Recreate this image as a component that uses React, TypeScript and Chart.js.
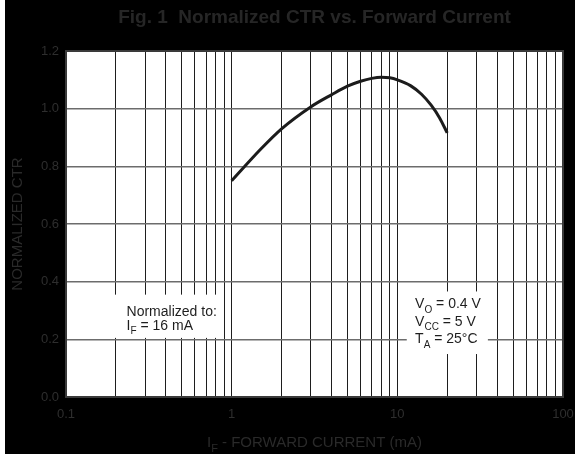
import React, { useEffect, useRef } from 'react';
import { Chart, registerables } from 'chart.js';

Chart.register(...registerables);

// Curve: normalized CTR against forward current (mA)
const currentMA = [1, 1.5, 2, 3, 4, 5, 6, 7, 8, 9, 10, 12, 14, 16, 18, 20];
const normalizedCTR = [0.75, 0.86, 0.93, 1.006, 1.048, 1.078, 1.095, 1.105, 1.109, 1.107, 1.1, 1.08, 1.05, 1.012, 0.968, 0.916];

// Axis ticks
const xDecades = [0.1, 1, 10, 100];
const xMinorSteps = [1, 2, 3, 4, 5, 6, 7, 8, 9];
const yTickValues = [0, 0.2, 0.4, 0.6, 0.8, 1.0, 1.2];

const TITLE = 'Fig. 1  Normalized CTR vs. Forward Current';
const Y_TITLE = 'NORMALIZED CTR';

type Part = { t: string; sub?: boolean };
const X_TITLE: Part[] = [{ t: 'I' }, { t: 'F', sub: true }, { t: ' - FORWARD CURRENT (mA)' }];
const NOTE_LEFT: Part[][] = [
  [{ t: 'Normalized to:' }],
  [{ t: 'I' }, { t: 'F', sub: true }, { t: ' = 16 mA' }],
];
const NOTE_RIGHT: Part[][] = [
  [{ t: 'V' }, { t: 'O', sub: true }, { t: ' = 0.4 V' }],
  [{ t: 'V' }, { t: 'CC', sub: true }, { t: ' = 5 V' }],
  [{ t: 'T' }, { t: 'A', sub: true }, { t: ' = 25°C' }],
];

const FAMILY = '"Liberation Sans", Arial, Helvetica, sans-serif';
const font = (size: number, weight = 'normal') => `${weight} ${size}px ${FAMILY}`;

const xGridValues: number[] = [];
xDecades.slice(0, -1).forEach((d) => xMinorSteps.forEach((m) => xGridValues.push(+(d * m).toPrecision(6))));
xGridValues.push(xDecades[xDecades.length - 1]);

function drawRich(ctx: CanvasRenderingContext2D, parts: Part[], x: number, y: number, size: number, align: 'left' | 'center') {
  const subSize = Math.round(size * 0.72);
  let total = 0;
  const widths = parts.map((p) => {
    ctx.font = font(p.sub ? subSize : size);
    const w = ctx.measureText(p.t).width;
    total += w;
    return w;
  });
  let cx = align === 'center' ? x - total / 2 : x;
  ctx.textAlign = 'left';
  ctx.textBaseline = 'alphabetic';
  parts.forEach((p, i) => {
    ctx.font = font(p.sub ? subSize : size);
    ctx.fillText(p.t, cx, p.sub ? y + size * 0.3 : y);
    cx += widths[i];
  });
}

const decorations = {
  id: 'ctrDecorations',
  beforeDraw(chart: any) {
    const { ctx, chartArea: a } = chart;
    ctx.save();
    ctx.fillStyle = '#ffffff';
    ctx.fillRect(a.left, a.top, a.right - a.left, a.bottom - a.top);
    ctx.restore();
  },
  beforeDatasetsDraw(chart: any) {
    const { ctx } = chart;
    const xs = chart.scales.x;
    const ys = chart.scales.y;
    ctx.save();
    // white panels behind the notes
    const panel = (x0: number, x1: number, y0: number, y1: number) => {
      const l = xs.getPixelForValue(x0);
      const r = xs.getPixelForValue(x1);
      const t = ys.getPixelForValue(y1);
      const b = ys.getPixelForValue(y0);
      ctx.fillStyle = '#ffffff';
      ctx.fillRect(l, t, r - l, b - t);
    };
    panel(0.18, 0.85, 0.205, 0.355);
    panel(11.4, 35.2, 0.149, 0.366);

    ctx.fillStyle = '#1e1e1e';
    NOTE_LEFT.forEach((line, i) => {
      drawRich(ctx, line, xs.getPixelForValue(0.232), ys.getPixelForValue(0.281) + i * 14, 14, 'left');
    });
    NOTE_RIGHT.forEach((line, i) => {
      drawRich(ctx, line, xs.getPixelForValue(12.8), ys.getPixelForValue(0.307) + i * 17.5, 14, 'left');
    });
    ctx.restore();
  },
  afterDraw(chart: any) {
    const { ctx, chartArea: a } = chart;
    ctx.save();
    // plot frame
    ctx.strokeStyle = '#3a3a3a';
    ctx.lineWidth = 2;
    ctx.strokeRect(a.left, a.top, a.right - a.left, a.bottom - a.top);

    const cx = (a.left + a.right) / 2;
    // main title
    ctx.fillStyle = '#262626';
    ctx.font = font(19, 'bold');
    ctx.textAlign = 'center';
    ctx.textBaseline = 'alphabetic';
    ctx.fillText(TITLE, cx, 23);

    // x-axis title
    ctx.fillStyle = '#2a2a2a';
    drawRich(ctx, X_TITLE, cx, 447, 15, 'center');

    // y-axis title
    ctx.translate(12.5, (a.top + a.bottom) / 2);
    ctx.rotate(-Math.PI / 2);
    ctx.font = font(15);
    ctx.textAlign = 'center';
    ctx.textBaseline = 'middle';
    ctx.fillText(Y_TITLE, 0, 0);
    ctx.restore();
  },
};

export default function App() {
  const canvasRef = useRef<HTMLCanvasElement | null>(null);

  useEffect(() => {
    document.body.style.margin = '0';
    const canvas = canvasRef.current;
    if (!canvas) return;
    const chart = new Chart(canvas, {
      type: 'line',
      data: {
        datasets: [
          {
            data: currentMA.map((x, i) => ({ x, y: normalizedCTR[i] })),
            borderColor: '#1c1c1c',
            borderWidth: 3,
            pointRadius: 0,
            fill: false,
            cubicInterpolationMode: 'monotone',
          },
        ],
      },
      options: {
        animation: false,
        responsive: false,
        maintainAspectRatio: false,
        layout: { padding: { left: 0, right: 12, top: 51, bottom: 0 } },
        plugins: {
          legend: { display: false },
          tooltip: { enabled: false },
          title: { display: false },
        },
        scales: {
          x: {
            type: 'logarithmic',
            min: 0.1,
            max: 100,
            afterBuildTicks: (s: any) => {
              s.ticks = xGridValues.map((v) => ({ value: v }));
            },
            afterFit: (s: any) => {
              s.height = 57;
              s.paddingLeft = 0;
              s.paddingRight = 0;
            },
            ticks: {
              autoSkip: false,
              maxRotation: 0,
              minRotation: 0,
              padding: 10,
              color: '#2e2e2e',
              font: { size: 13, family: FAMILY },
              callback: (v: any) => (xDecades.includes(Number(v)) ? String(v) : ''),
            },
            grid: { color: '#1e1e1e', lineWidth: 1, drawTicks: false },
            border: { display: false },
          },
          y: {
            type: 'linear',
            min: 0,
            max: 1.2,
            afterBuildTicks: (s: any) => {
              s.ticks = yTickValues.map((v) => ({ value: v }));
            },
            afterFit: (s: any) => {
              s.width = 61;
              s.paddingTop = 0;
              s.paddingBottom = 0;
            },
            ticks: {
              padding: 7,
              color: '#2e2e2e',
              font: { size: 13, family: FAMILY },
              callback: (v: any) => Number(v).toFixed(1),
            },
            grid: { color: '#6c6c6c', lineWidth: 1.5, drawTicks: false },
            border: { display: false },
          },
        },
      },
      plugins: [decorations],
    } as any);
    return () => chart.destroy();
  }, []);

  return (
    <div style={{ position: 'relative', width: 575, height: 455, background: '#ffffff' }}>
      <div style={{ position: 'absolute', left: 5, top: 0, width: 570, height: 454, background: '#000000' }}>
        <canvas ref={canvasRef} width={570} height={454} style={{ display: 'block' }} />
      </div>
    </div>
  );
}
